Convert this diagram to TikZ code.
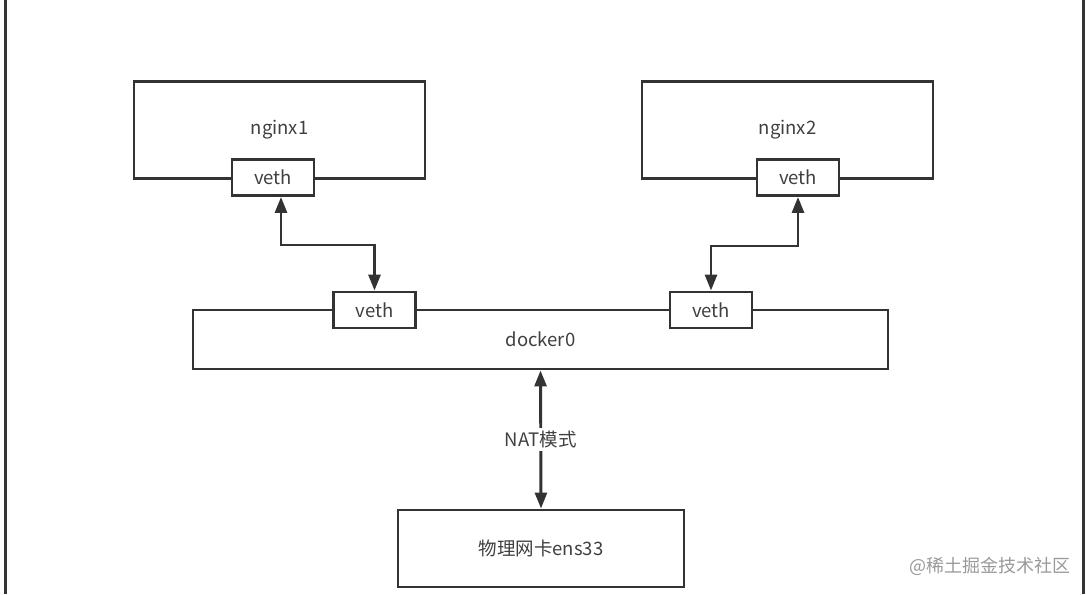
\documentclass[tikz,border=0pt]{standalone}
\usepackage{fontspec}
\setmainfont{Noto Sans CJK SC}
\usetikzlibrary{positioning,arrows.meta}
\definecolor{edgegray}{HTML}{333333}
\definecolor{labelgray}{HTML}{404040}
\begin{document}
\begin{tikzpicture}[
        x=1pt, y=-1pt,
        every node/.style={font=\fontsize{18.5}{21}\selectfont, text=labelgray},
        host/.style={draw=edgegray, line width=2.9pt, fill=white,
                     minimum width=291pt, minimum height=97pt},
        vport/.style={draw=edgegray, line width=2.9pt, fill=white,
                      minimum width=82pt, minimum height=36pt},
        bridge/.style={draw=edgegray, line width=2.9pt, fill=white,
                       minimum width=695pt, minimum height=59pt},
        nic/.style={draw=edgegray, line width=2.9pt, fill=white,
                    minimum width=286pt, minimum height=77pt},
        link/.style={{Triangle[length=16pt,width=12pt]}-{Triangle[length=16pt,width=12pt]},
                     draw=edgegray, line width=2.9pt},
        frame/.style={draw=edgegray, line width=3pt}
    ]
        \useasboundingbox (0,0) rectangle (1086,594);
        \draw[frame] (5,0) -- (5,594);
        \draw[frame] (1083,0) -- (1083,594);

        \node[host] (nginx1) at (279.5,130) {nginx1};
        \node[host] (nginx2) at (787.5,130) {nginx2};
        \node[vport] (veth1) at (273,177.5) {veth};
        \node[vport] (veth2) at (798,177.5) {veth};

        \node[bridge] (docker) at (540.5,339.5) {docker0};
        \node[vport] (dveth1) at (374.5,310) {veth};
        \node[vport] (dveth2) at (711,310) {veth};

        \node[nic] (ens) at (541,548.5) {物理网卡ens33};

        \draw[link] ([xshift=8pt]veth1.south) -- ++(0,48) -| (dveth1.north);
        \draw[link] (veth2.south) -- ++(0,49) -| (dveth2.north);
        \draw[link] (docker.south) -- node[fill=white, inner sep=3pt] {NAT模式} (ens.north);

        \node[text=black!40, inner sep=0pt, font=\fontsize{18}{21}\selectfont] (mark) at (990,566) {@稀土掘金技术社区};
    \end{tikzpicture}
\end{document}
